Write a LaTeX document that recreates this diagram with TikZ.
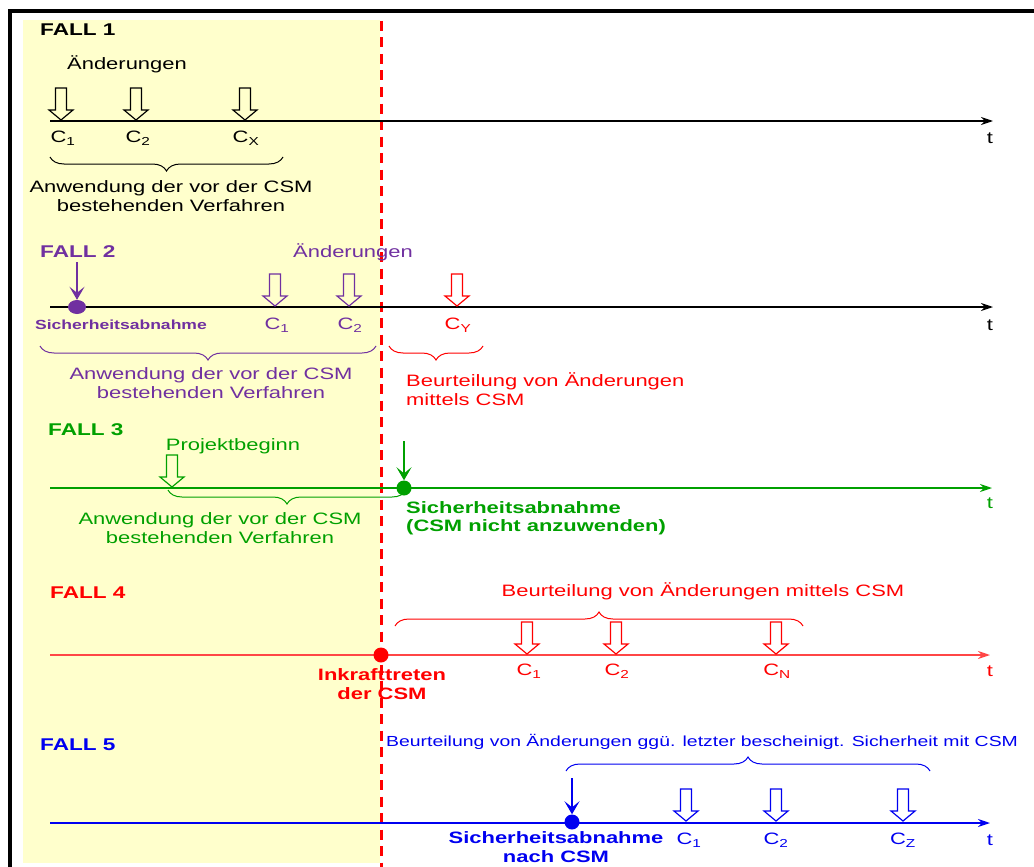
\documentclass[tikz,border=0pt]{standalone}
\usepackage{fontspec}
\setmainfont{Liberation Sans}[FakeStretch=1.33]
\usepackage{xcolor}
\usetikzlibrary{arrows.meta, positioning, shapes.geometric, decorations.pathreplacing}
\definecolor{paleyellow}{RGB}{255,255,204}
\definecolor{fallpurple}{RGB}{112,48,160}
\definecolor{fallgreen}{RGB}{0,160,0}
\definecolor{fallred}{RGB}{255,0,0}
\definecolor{axisred}{RGB}{255,70,70}
\definecolor{fallblue}{RGB}{0,0,240}
\tikzset{
    txt/.style={font=\fontsize{16.5}{18.5}\selectfont, inner sep=0pt, align=center},
    smalltxt/.style={font=\fontsize{14.6}{17}\selectfont, inner sep=0pt, align=left},
    boldtxt/.style={font=\fontsize{16.5}{18.5}\selectfont\bfseries, inner sep=0pt},
    falltitle/.style={font=\fontsize{17}{20}\selectfont\bfseries, anchor=west, inner sep=0pt},
    axis/.style={line width=1.5pt, -{Stealth[length=12pt, width=8pt]}},
    dot/.style={circle, fill, inner sep=0pt, minimum size=15pt},
    pointer/.style={line width=1.2pt, -{Stealth[length=13pt, width=15pt, inset=6pt]}},
    brace/.style={decorate, decoration={brace, mirror, amplitude=14pt}, line width=1pt},
    upbrace/.style={decorate, decoration={brace, amplitude=14pt}, line width=1pt},
    chg/.pic={\draw[line width=1.2pt, pic actions] (-5.5,-32) -- (5.5,-32) -- (5.5,-10) -- (12,-10)
        -- (0,0) -- (-12,-10) -- (-5.5,-10) -- cycle;}
}
\begin{document}
\begin{tikzpicture}[x=1pt, y=-1pt]
    \useasboundingbox (0,0) rectangle (1034,867);
    % Background, frame and CSM line
    \fill[paleyellow] (23,20) rectangle (380,863);
    \draw[line width=4pt] (9.5,867) -- (9.5,11) -- (1034,11);
    \draw[fallred, line width=3pt, dash pattern=on 10pt off 6.5pt] (381.5,21) -- (381.5,867);

    % Fall 1
    \node[falltitle] (f1) at (40,30) {FALL 1};
    \node[txt] (f1chg) at (127,64) {Änderungen};
    \coordinate (f1s) at (50,121);
    \coordinate (f1e) at (993,121);
    \draw[axis] (f1s) -- (f1e);
    \pic[draw=black] at (61,120) {chg};
    \pic[draw=black] at (136,120) {chg};
    \pic[draw=black] at (245,120) {chg};
    \node[txt] (f1c1) at (63,138) {C\textsubscript{1}};
    \node[txt] (f1c2) at (138,138) {C\textsubscript{2}};
    \node[txt] (f1cx) at (246,138) {C\textsubscript{X}};
    \node[txt] (f1t) at (990,138) {t};
    \coordinate (f1bl) at (50,157);
    \coordinate (f1br) at (283,157);
    \draw[brace] (f1bl) -- (f1br);
    \node[txt] (f1txt) at (171,196) {Anwendung der vor der CSM\\bestehenden Verfahren};

    % Fall 2
    \node[falltitle, text=fallpurple] (f2) at (40,252) {FALL 2};
    \node[txt, text=fallpurple] (f2chg) at (353,252) {Änderungen};
    \coordinate (f2s) at (50,307);
    \coordinate (f2e) at (993,307);
    \draw[axis] (f2s) -- (f2e);
    \node[dot, ellipse, fill=fallpurple, minimum width=18pt, minimum height=14pt] (f2dot) at (77,307) {};
    \coordinate (f2top) at (77,262);
    \draw[pointer, fallpurple] (f2top) -- (f2dot);
    \pic[draw=fallpurple] at (275,306) {chg};
    \pic[draw=fallpurple] at (349,306) {chg};
    \pic[draw=fallred] at (457,306) {chg};
    \node[font=\fontsize{13.2}{15}\selectfont\bfseries, inner sep=0pt, text=fallpurple] (f2abn) at (121,325) {Sicherheitsabnahme};
    \node[txt, text=fallpurple] (f2c1) at (277,325) {C\textsubscript{1}};
    \node[txt, text=fallpurple] (f2c2) at (350,325) {C\textsubscript{2}};
    \node[txt, text=fallred] (f2cy) at (458,325) {C\textsubscript{Y}};
    \node[txt] (f2t) at (990,325) {t};
    \coordinate (f2bl) at (40,346);
    \coordinate (f2br) at (376,346);
    \draw[brace, fallpurple] (f2bl) -- (f2br);
    \node[txt, text=fallpurple] (f2txt) at (211,383) {Anwendung der vor der CSM\\bestehenden Verfahren};
    \coordinate (f2rl) at (389,346);
    \coordinate (f2rr) at (483,346);
    \draw[brace, fallred] (f2rl) -- (f2rr);
    \node[txt, align=left, anchor=west, text=fallred] (f2csm) at (406,389) {Beurteilung von Änderungen\\mittels CSM};

    % Fall 3
    \node[falltitle, text=fallgreen] (f3) at (48,430) {FALL 3};
    \node[txt, text=fallgreen] (f3beg) at (233,446) {Projektbeginn};
    \coordinate (f3s) at (50,488);
    \coordinate (f3e) at (992,488);
    \draw[axis, fallgreen] (f3s) -- (f3e);
    \pic[draw=fallgreen] at (172,487) {chg};
    \node[dot, fill=fallgreen] (f3dot) at (404,488) {};
    \coordinate (f3top) at (404,441);
    \draw[pointer, fallgreen] (f3top) -- (f3dot);
    \node[txt, text=fallgreen] (f3t) at (990,503) {t};
    \coordinate (f3bl) at (168,490);
    \coordinate (f3br) at (406,490);
    \draw[brace, fallgreen] (f3bl) -- (f3br);
    \node[txt, text=fallgreen] (f3txt) at (220,528) {Anwendung der vor der CSM\\bestehenden Verfahren};
    \node[boldtxt, align=left, anchor=west, text=fallgreen] (f3abn) at (406,518) {Sicherheitsabnahme\\(CSM nicht anzuwenden)};

    % Fall 4
    \node[falltitle, text=fallred] (f4) at (50,593) {FALL 4};
    \node[txt, text=fallred] (f4csm) at (703,591) {Beurteilung von Änderungen mittels CSM};
    \coordinate (f4bl) at (395,626);
    \coordinate (f4br) at (803,626);
    \draw[upbrace, fallred] (f4bl) -- (f4br);
    \coordinate (f4s) at (50,655);
    \coordinate (f4e) at (990,655);
    \draw[axis, axisred] (f4s) -- (f4e);
    \node[dot, fill=fallred] (f4dot) at (381,655) {};
    \pic[draw=fallred] at (527,654) {chg};
    \pic[draw=fallred] at (616,654) {chg};
    \pic[draw=fallred] at (776,654) {chg};
    \node[boldtxt, align=center, text=fallred] (f4ink) at (382,684) {Inkrafttreten\\der CSM};
    \node[txt, text=fallred] (f4c1) at (529,671) {C\textsubscript{1}};
    \node[txt, text=fallred] (f4c2) at (617,671) {C\textsubscript{2}};
    \node[txt, text=fallred] (f4cn) at (777,671) {C\textsubscript{N}};
    \node[txt, text=fallred] (f4t) at (990,671) {t};

    % Fall 5
    \node[falltitle, text=fallblue] (f5) at (40,745) {FALL 5};
    \node[smalltxt, anchor=west, text=fallblue] (f5csm) at (386,742) {Beurteilung von Änderungen ggü. letzter bescheinigt. Sicherheit mit CSM};
    \coordinate (f5bl) at (566,771);
    \coordinate (f5br) at (930,771);
    \draw[upbrace, fallblue] (f5bl) -- (f5br);
    \coordinate (f5s) at (50,823);
    \coordinate (f5e) at (990,823);
    \draw[axis, fallblue] (f5s) -- (f5e);
    \node[dot, fill=fallblue] (f5dot) at (572,822) {};
    \coordinate (f5top) at (572,778);
    \draw[pointer, fallblue] (f5top) -- (f5dot);
    \pic[draw=fallblue] at (686,821) {chg};
    \pic[draw=fallblue] at (776,821) {chg};
    \pic[draw=fallblue] at (903,821) {chg};
    \node[boldtxt, align=center, text=fallblue] (f5abn) at (556,847) {Sicherheitsabnahme\\nach CSM};
    \node[txt, text=fallblue] (f5c1) at (689,840) {C\textsubscript{1}};
    \node[txt, text=fallblue] (f5c2) at (776,840) {C\textsubscript{2}};
    \node[txt, text=fallblue] (f5cz) at (903,840) {C\textsubscript{Z}};
    \node[txt, text=fallblue] (f5t) at (990,840) {t};
\end{tikzpicture}
\end{document}
